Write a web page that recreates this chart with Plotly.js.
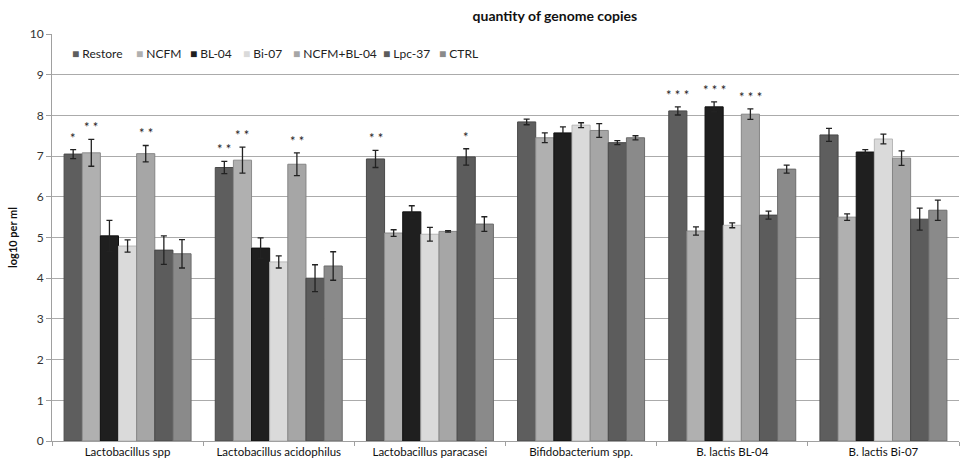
<!DOCTYPE html>
<html>
<head>
<meta charset="utf-8">
<script src="https://cdn.plot.ly/plotly-3.0.1.min.js"></script>
<style>html,body{margin:0;padding:0;background:#fff;}#chart{width:960px;height:468px;}</style>
</head>
<body>
<div id="chart"></div>
<script>
const categories = ["Lactobacillus spp", "Lactobacillus acidophilus", "Lactobacillus paracasei", "Bifidobacterium spp.", "B. lactis BL-04", "B. lactis Bi-07"];
const seriesNames = ["Restore", "NCFM", "BL-04", "Bi-07", "NCFM+BL-04", "Lpc-37", "CTRL"];

const restore = [7.05, 6.72, 6.93, 7.84, 8.11, 7.52];
const ncfm = [7.08, 6.90, 5.11, 7.45, 5.16, 5.50];
const bl04 = [5.04, 4.74, 5.63, 7.57, 8.21, 7.10];
const bi07 = [4.79, 4.40, 5.08, 7.76, 5.30, 7.42];
const ncfmBl04 = [7.06, 6.80, 5.15, 7.63, 8.03, 6.95];
const lpc37 = [4.69, 4.00, 6.98, 7.33, 5.55, 5.45];
const ctrl = [4.60, 4.30, 5.33, 7.45, 6.68, 5.67];

const errRestore = [0.11, 0.15, 0.21, 0.07, 0.10, 0.16];
const errNcfm = [0.33, 0.32, 0.08, 0.12, 0.10, 0.08];
const errBl04 = [0.38, 0.25, 0.15, 0.15, 0.12, 0.06];
const errBi07 = [0.15, 0.15, 0.17, 0.06, 0.06, 0.12];
const errNcfmBl04 = [0.20, 0.28, 0.02, 0.17, 0.13, 0.18];
const errLpc37 = [0.35, 0.33, 0.20, 0.05, 0.10, 0.27];
const errCtrl = [0.35, 0.35, 0.18, 0.05, 0.10, 0.25];

const starsRestore = ["*", "**", "**", "", "***", ""];
const starsNcfm = ["**", "**", "", "", "", ""];
const starsBl04 = ["", "", "", "", "***", ""];
const starsBi07 = ["", "", "", "", "", ""];
const starsNcfmBl04 = ["**", "**", "", "", "***", ""];
const starsLpc37 = ["", "", "*", "", "", ""];
const starsCtrl = ["", "", "", "", "", ""];

const yTicks = [0, 1, 2, 3, 4, 5, 6, 7, 8, 9, 10];

const values = [restore, ncfm, bl04, bi07, ncfmBl04, lpc37, ctrl];
const errors = [errRestore, errNcfm, errBl04, errBi07, errNcfmBl04, errLpc37, errCtrl];
const stars = [starsRestore, starsNcfm, starsBl04, starsBi07, starsNcfmBl04, starsLpc37, starsCtrl];
const colors = ["#5e5e5e", "#b0b0b0", "#1f1f1f", "#dadada", "#a6a6a6", "#5c5c5c", "#8a8a8a"];
const edges = ["#4a4a4a", "#8c8c8c", "#111111", "#b8b8b8", "#858585", "#474747", "#6c6c6c"];

// legend layout (pixel positions of entries inside the chart)
const legendPx = [70, 134, 188, 241, 291, 381, 437];
const legendPy = 53;

const W = 960, H = 468;
const M = {l: 52, r: 1, t: 34, b: 27};
const bargap = 0.16;
const font = "Lato, 'Open Sans', sans-serif";

const traces = seriesNames.map((name, i) => ({
  type: "bar",
  name: name,
  x: categories,
  y: values[i],
  marker: {color: colors[i], line: {color: edges[i], width: 1}},
  error_y: {type: "data", array: errors[i], visible: true, color: "#222", thickness: 1.3, width: 3}
}));

const n = seriesNames.length;
const bw = (1 - bargap) / n;
const annotations = [];
stars.forEach((arr, i) => {
  arr.forEach((s, g) => {
    if (!s) return;
    annotations.push({
      xref: "x", yref: "y",
      x: g + (i - (n - 1) / 2) * bw,
      y: values[i][g] + errors[i][g] + 0.05,
      text: s.split("").join(" "), showarrow: false, yanchor: "bottom",
      font: {family: font, size: 13, color: "#222"}
    });
  });
});

const pw = W - M.l - M.r, ph = H - M.t - M.b;
seriesNames.forEach((name, i) => {
  annotations.push({
    xref: "paper", yref: "paper",
    x: (legendPx[i] - M.l) / pw, y: 1 - (legendPy - M.t) / ph,
    xanchor: "left", yanchor: "middle", showarrow: false,
    text: '<span style="color:' + colors[i] + '">■</span> ' + name,
    font: {family: font, size: 12, color: "#222"}
  });
});

const layout = {
  width: W, height: H,
  margin: M,
  paper_bgcolor: "#fff", plot_bgcolor: "#fff",
  title: {text: "<b>quantity of genome copies</b>", x: 0.578, xanchor: "center", y: 0.965, yanchor: "middle", font: {family: font, size: 14, color: "#111"}},
  barmode: "group", bargap: bargap, bargroupgap: 0,
  xaxis: {
    type: "category", showline: true, linecolor: "#a0a0a0", linewidth: 1,
    ticks: "outside", tickson: "boundaries", ticklen: 4, tickcolor: "#a0a0a0",
    tickfont: {family: font, size: 11.5, color: "#111"}, showgrid: false
  },
  yaxis: {
    range: [0, 10], tickvals: yTicks, ticktext: yTicks.map(String),
    showline: true, linecolor: "#a0a0a0", linewidth: 1,
    ticks: "outside", ticklen: 5, tickcolor: "#a0a0a0",
    showgrid: true, gridcolor: "#ababab", gridwidth: 1, zeroline: false,
    tickfont: {family: font, size: 12, color: "#333"},
    title: {text: "<b>log10 per ml</b>", font: {family: font, size: 11, color: "#111"}, standoff: 9}
  },
  showlegend: false,
  annotations: annotations
};

Plotly.newPlot("chart", traces, layout, {displayModeBar: false, staticPlot: true});
</script>
</body>
</html>
